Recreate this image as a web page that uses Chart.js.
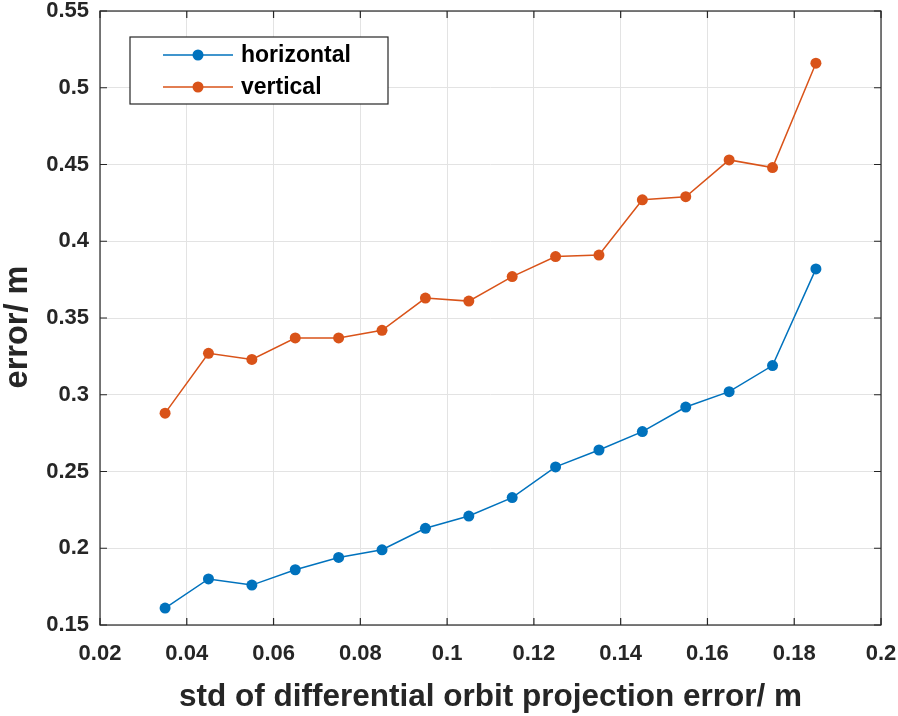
<!DOCTYPE html>
<html>
<head>
<meta charset="utf-8">
<script src="https://cdn.jsdelivr.net/npm/chart.js@4/dist/chart.umd.min.js"></script>
<style>
  html, body { margin: 0; padding: 0; background: #ffffff; }
  #grafico { display: block; }
</style>
</head>
<body>
<canvas id="grafico" width="898" height="716"></canvas>
<script>
const listaX = [0.035, 0.045, 0.055, 0.065, 0.075, 0.085, 0.095, 0.105, 0.115, 0.125, 0.135, 0.145, 0.155, 0.165, 0.175, 0.185];
const listaHorizontal = [0.161, 0.180, 0.176, 0.186, 0.194, 0.199, 0.213, 0.221, 0.233, 0.253, 0.264, 0.276, 0.292, 0.302, 0.319, 0.382];
const listaVertical = [0.288, 0.327, 0.323, 0.337, 0.337, 0.342, 0.363, 0.361, 0.377, 0.390, 0.391, 0.427, 0.429, 0.453, 0.448, 0.516];
const ticksX = [0.02, 0.04, 0.06, 0.08, 0.1, 0.12, 0.14, 0.16, 0.18, 0.2];
const ticksY = [0.15, 0.2, 0.25, 0.3, 0.35, 0.4, 0.45, 0.5, 0.55];
const tituloY = 'error/ m';

const corAzul = '#0072BD';
const corLaranja = '#D95319';
const fonte = 'Liberation Sans, Arial, sans-serif';

function pontos(valores) {
    return listaX.map((x, i) => ({ x: x, y: valores[i] }));
}

// moldura com ticks para dentro, titulo do eixo y e legenda dentro da area
const pluginMoldura = {
    id: 'moldura',
    afterDraw(chart) {
        const ctx = chart.ctx;
        const area = chart.chartArea;
        const escX = chart.scales.x;
        const escY = chart.scales.y;
        ctx.save();
        ctx.strokeStyle = '#262626';
        ctx.lineWidth = 1.2;
        ctx.strokeRect(area.left, area.top, area.right - area.left, area.bottom - area.top);
        ctx.beginPath();
        ticksX.forEach((v) => {
            const px = escX.getPixelForValue(v);
            ctx.moveTo(px, area.bottom);
            ctx.lineTo(px, area.bottom - 7);
            ctx.moveTo(px, area.top);
            ctx.lineTo(px, area.top + 7);
        });
        ticksY.forEach((v) => {
            const py = escY.getPixelForValue(v);
            ctx.moveTo(area.left, py);
            ctx.lineTo(area.left + 7, py);
            ctx.moveTo(area.right, py);
            ctx.lineTo(area.right - 7, py);
        });
        ctx.stroke();

        // titulo do eixo y
        ctx.save();
        ctx.translate(18, 327);
        ctx.rotate(-Math.PI / 2);
        ctx.fillStyle = '#262626';
        ctx.font = 'bold 32.5px ' + fonte;
        ctx.textAlign = 'center';
        ctx.textBaseline = 'middle';
        ctx.fillText(tituloY, 0, 0);
        ctx.restore();

        // legenda
        const caixa = { x: 130, y: 37, w: 258, h: 67 };
        ctx.fillStyle = '#ffffff';
        ctx.fillRect(caixa.x, caixa.y, caixa.w, caixa.h);
        ctx.strokeStyle = '#262626';
        ctx.lineWidth = 1.2;
        ctx.strokeRect(caixa.x, caixa.y, caixa.w, caixa.h);
        chart.data.datasets.forEach((ds, i) => {
            const yl = caixa.y + 18 + i * 32;
            ctx.strokeStyle = ds.borderColor;
            ctx.lineWidth = 1.5;
            ctx.beginPath();
            ctx.moveTo(163, yl);
            ctx.lineTo(233, yl);
            ctx.stroke();
            ctx.fillStyle = ds.backgroundColor;
            ctx.beginPath();
            ctx.arc(198, yl, 5.5, 0, Math.PI * 2);
            ctx.fill();
            ctx.fillStyle = '#000000';
            ctx.font = 'bold 23px ' + fonte;
            ctx.textBaseline = 'middle';
            ctx.textAlign = 'left';
            ctx.fillText(ds.label, 241, yl + 1);
        });
        ctx.restore();
    }
};

const contexto = document.getElementById('grafico').getContext('2d');

new Chart(contexto, {
    type: 'line',
    data: {
        datasets: [
            {
                label: 'horizontal',
                data: pontos(listaHorizontal),
                borderColor: corAzul,
                backgroundColor: corAzul,
                borderWidth: 1.5,
                pointRadius: 5.5,
                pointBorderWidth: 0,
                tension: 0
            },
            {
                label: 'vertical',
                data: pontos(listaVertical),
                borderColor: corLaranja,
                backgroundColor: corLaranja,
                borderWidth: 1.5,
                pointRadius: 5.5,
                pointBorderWidth: 0,
                tension: 0
            }
        ]
    },
    options: {
        responsive: false,
        animation: false,
        layout: { padding: { top: 11, right: 17, left: 0, bottom: 0 } },
        scales: {
            x: {
                type: 'linear',
                min: 0.02,
                max: 0.2,
                afterBuildTicks(escala) {
                    escala.ticks = ticksX.map((v) => ({ value: v }));
                },
                afterFit(escala) {
                    escala.height = 91;
                    escala.paddingLeft = 0;
                    escala.paddingRight = 0;
                },
                grid: { color: '#e3e3e3', drawTicks: false },
                border: { display: false },
                ticks: {
                    color: '#262626',
                    padding: 16,
                    maxRotation: 0,
                    autoSkip: false,
                    font: { family: fonte, size: 22, weight: 'bold' },
                    callback: (v) => String(parseFloat(Number(v).toFixed(2)))
                },
                title: {
                    display: true,
                    text: 'std of differential orbit projection error/ m',
                    color: '#262626',
                    font: { family: fonte, size: 31.5, weight: 'bold' },
                    padding: { top: 0, bottom: 0 }
                }
            },
            y: {
                type: 'linear',
                min: 0.15,
                max: 0.55,
                afterBuildTicks(escala) {
                    escala.ticks = ticksY.map((v) => ({ value: v }));
                },
                afterFit(escala) {
                    escala.width = 100;
                    escala.paddingTop = 0;
                    escala.paddingBottom = 0;
                },
                grid: { color: '#e3e3e3', drawTicks: false },
                border: { display: false },
                ticks: {
                    color: '#262626',
                    padding: 11,
                    autoSkip: false,
                    font: { family: fonte, size: 22, weight: 'bold' },
                    callback: (v) => String(parseFloat(Number(v).toFixed(2)))
                },
                title: { display: false }
            }
        },
        plugins: {
            legend: { display: false },
            tooltip: { enabled: false }
        }
    },
    plugins: [pluginMoldura]
});
</script>
</body>
</html>
